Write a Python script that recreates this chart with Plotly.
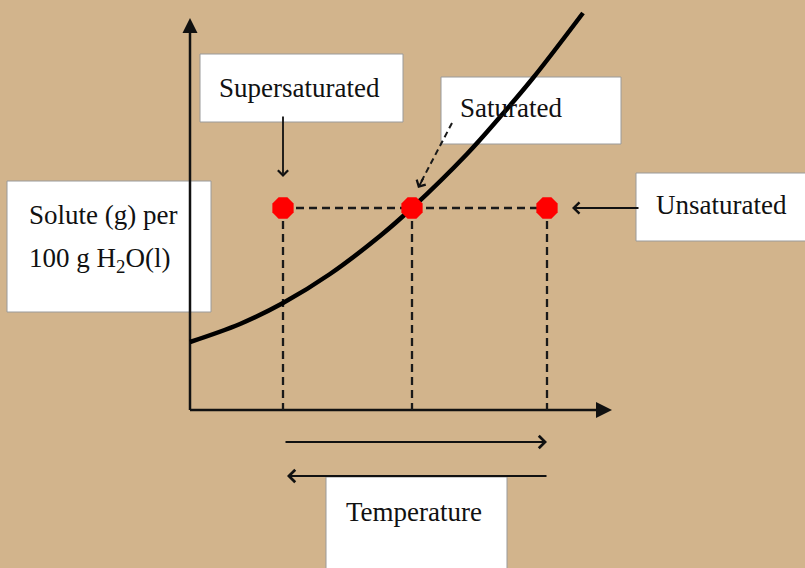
import plotly.graph_objects as go

# ---- data (chart units: x = temperature, y = solute per 100 g water) ----
curve_temperature = [0, 50, 93, 140, 190, 222, 277, 310, 343, 393]
curve_solubility = [68, 86, 107, 136, 174, 202, 256, 293, 332, 397]

sample_temperature = [93, 222, 357]
sample_solubility = [202, 202, 202]
sample_labels = ["Supersaturated", "Saturated", "Unsaturated"]

axis_x_end = 422
axis_y_end = 392

BG = "rgb(210,180,140)"
INK = "#111111"
FONT = dict(family="Liberation Serif, Times New Roman, serif", size=27, color=INK)

fig = go.Figure()

# white label boxes (drawn below the traces)
boxes = [
    (-183, 98, 21, 229),     # y-axis label
    (10, 288, 213, 356),     # Supersaturated
    (251, 266, 431, 333),    # Saturated
    (446, 169, 625, 237),    # Unsaturated
    (136, -170, 317, -67),   # Temperature
]
for x0, y0, x1, y1 in boxes:
    fig.add_shape(type="rect", x0=x0, y0=y0, x1=x1, y1=y1, xref="x", yref="y",
                  fillcolor="white", line=dict(color="#9a9a9a", width=1), layer="below")

# axes
fig.add_trace(go.Scatter(x=[0, 0, None, 0, axis_x_end - 8], y=[axis_y_end - 8, 0, None, 0, 0],
                         mode="lines", line=dict(color=INK, width=2.5), hoverinfo="skip"))
fig.add_trace(go.Scatter(x=[0], y=[axis_y_end], mode="markers",
                         marker=dict(symbol="arrow-up", size=15, color=INK), hoverinfo="skip"))
fig.add_trace(go.Scatter(x=[axis_x_end], y=[0], mode="markers",
                         marker=dict(symbol="arrow-right", size=16, color=INK), hoverinfo="skip"))

# dashed guide lines
vx, vy = [], []
for t, s in zip(sample_temperature, sample_solubility):
    vx += [t, t, None]
    vy += [s, 0, None]
fig.add_trace(go.Scatter(x=vx, y=vy, mode="lines",
                         line=dict(color="#1a1a1a", width=2.3, dash="8px,5px"), hoverinfo="skip"))
fig.add_trace(go.Scatter(x=sample_temperature, y=sample_solubility, mode="lines",
                         line=dict(color="#1a1a1a", width=2.3, dash="8px,5px"), hoverinfo="skip"))

# saturated dashed pointer line
fig.add_trace(go.Scatter(x=[262, 230], y=[287, 226], mode="lines",
                         line=dict(color="#1a1a1a", width=2, dash="6px,4px"), hoverinfo="skip"))

# solubility curve
fig.add_trace(go.Scatter(x=curve_temperature, y=curve_solubility, mode="lines",
                         line=dict(color="black", width=4.5, shape="spline", smoothing=1.0),
                         hoverinfo="skip"))

# sample points
fig.add_trace(go.Scatter(x=sample_temperature, y=sample_solubility, mode="markers",
                         marker=dict(symbol="octagon", size=23, color="#ff0000",
                                     line=dict(width=0)),
                         text=sample_labels, hoverinfo="text"))

ann = []
# text labels
ann.append(dict(x=109, y=322, text="Supersaturated", showarrow=False, font=FONT,
                xanchor="center", yanchor="middle"))
ann.append(dict(x=321, y=302, text="Saturated", showarrow=False, font=FONT,
                xanchor="center", yanchor="middle"))
ann.append(dict(x=531, y=205, text="Unsaturated", showarrow=False, font=FONT,
                xanchor="center", yanchor="middle"))
ann.append(dict(x=224, y=-102, text="Temperature", showarrow=False, font=FONT,
                xanchor="center", yanchor="middle"))
ann.append(dict(x=-163, y=195, text="Solute (g) per", showarrow=False, font=FONT,
                xanchor="left", yanchor="middle"))
ann.append(dict(x=-163, y=150, text="100 g H<sub>2</sub>O(l)", showarrow=False, font=FONT,
                xanchor="left", yanchor="middle"))

# arrows
def arrow(x, y, ax, ay, width=1.8, size=1.1, head=4):
    return dict(x=x, y=y, ax=ax, ay=ay, xref="x", yref="y", axref="x", ayref="y",
                text="", showarrow=True, arrowhead=head, arrowsize=size,
                arrowwidth=width, arrowcolor=INK, standoff=0, startstandoff=0)

ann.append(arrow(93, 233, 93, 295))          # Supersaturated pointer
ann.append(arrow(228, 222, 234, 233))        # Saturated pointer head
ann.append(arrow(382, 202, 450, 202, width=2))   # Unsaturated pointer
ann.append(arrow(357, -32, 94, -32, width=2.2))  # temperature increasing
ann.append(arrow(97, -66, 358, -66, width=2.2))  # temperature decreasing

fig.update_layout(
    width=805, height=568,
    margin=dict(l=0, r=0, t=0, b=0),
    paper_bgcolor=BG, plot_bgcolor=BG,
    showlegend=False,
    xaxis=dict(range=[-190, 615], visible=False, fixedrange=True),
    yaxis=dict(range=[-158, 410], visible=False, fixedrange=True),
    annotations=ann,
)

fig.write_html(
    "out.html",
    config={"displayModeBar": False},
    post_script="document.body.style.margin='0';document.body.style.overflow='hidden';"
                "document.body.style.background='rgb(210,180,140)';",
)
